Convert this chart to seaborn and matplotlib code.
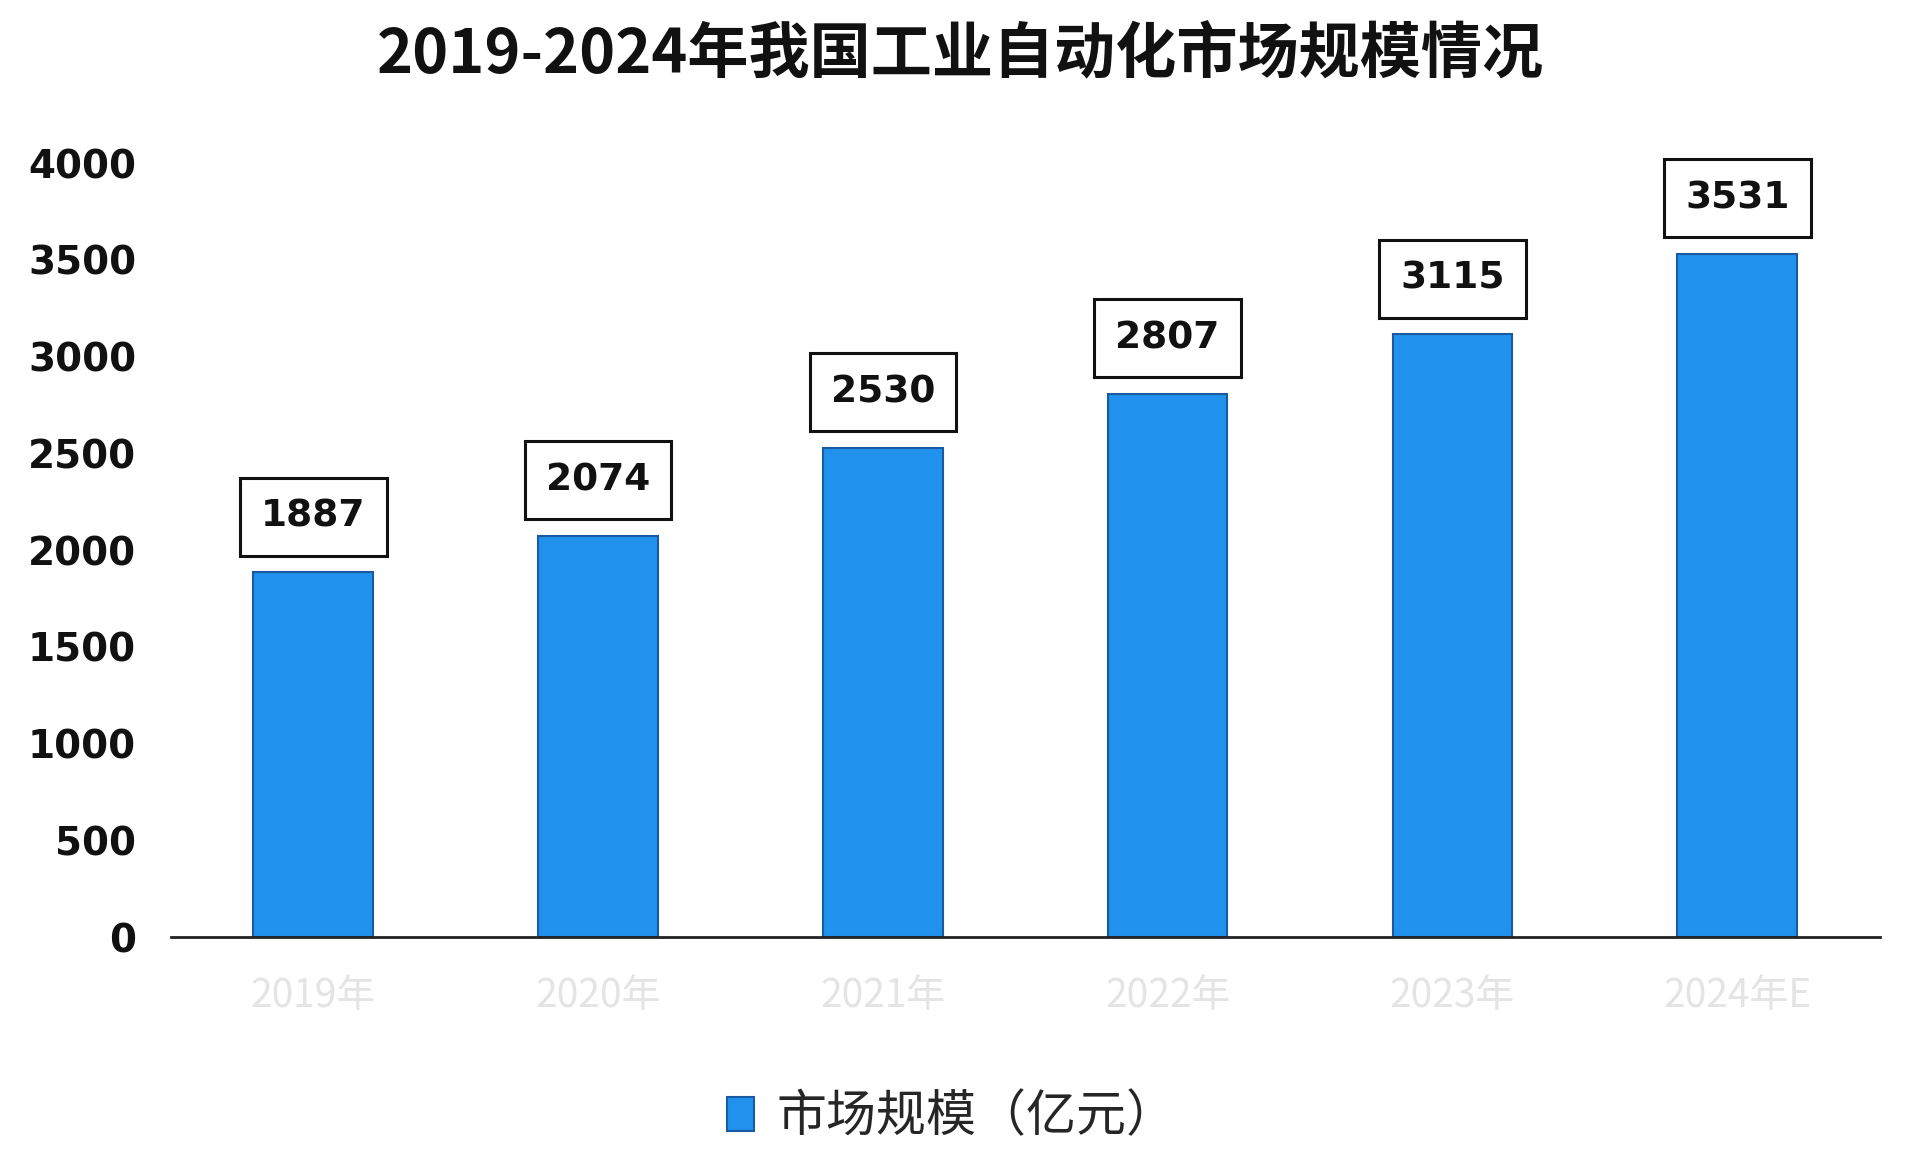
import matplotlib
matplotlib.use("Agg")
import matplotlib.pyplot as plt
import seaborn as sns
import pandas as pd

years = ["2019年", "2020年", "2021年", "2022年", "2023年", "2024年E"]
values = [1887, 2074, 2530, 2807, 3115, 3531]
series_name = "市场规模（亿元）"
title = "2019-2024年我国工业自动化市场规模情况"
y_ticks = [0, 500, 1000, 1500, 2000, 2500, 3000, 3500, 4000]

sns.set_theme(style="white")
plt.rcParams['font.family'] = ['Noto Sans CJK SC', 'DejaVu Sans']

df = pd.DataFrame({"year": years, "value": values, "series": series_name})

fig = plt.figure(figsize=(19.2, 11.73), dpi=100)
ax = fig.add_axes([0.089, 0.201, 0.890, 0.660])

sns.barplot(data=df, x="year", y="value", hue="series", ax=ax,
            palette=["#2092ee"], saturation=1, width=0.42, edgecolor="#1a5aa0",
            linewidth=1.5, legend=True)

ax.set_xlim(-0.5, len(years) - 0.5)
ax.set_ylim(0, 4000)
ax.set_yticks(y_ticks)
ax.set_yticklabels([str(t) for t in y_ticks], fontsize=28,
                   family=['DejaVu Sans'], fontweight='semibold', color='#111111')
ax.tick_params(axis='y', length=0, pad=25)
ax.tick_params(axis='x', length=0, pad=28)
for lbl in ax.get_xticklabels():
    lbl.set_fontsize(28)
    lbl.set_color('#e4e4e4')
ax.set_xlabel("")
ax.set_ylabel("")

for s in ["top", "right", "left"]:
    ax.spines[s].set_visible(False)
ax.spines["bottom"].set_color("#222222")
ax.spines["bottom"].set_linewidth(2)

for cont in ax.containers:
    ax.bar_label(cont, labels=[str(v) for v in values], padding=27,
                 fontsize=27, family=['DejaVu Sans'], fontweight='semibold',
                 color='#111111',
                 bbox=dict(boxstyle='square,pad=0.56', fc='white', ec='#111111', lw=2.2))

fig.text(0.5, 0.953, title, ha='center', va='center', fontsize=44,
         fontweight='bold', color='#111111')

leg = ax.legend(loc='center', bbox_to_anchor=(0.457, -0.233), frameon=False,
                prop={'size': 36, 'weight': 'medium'},
                handlelength=0.55, handleheight=0.65, handletextpad=0.45)
for h in leg.legend_handles:
    h.set_edgecolor("#1a5aa0")

fig.savefig("out.png", dpi=100, facecolor='white')
